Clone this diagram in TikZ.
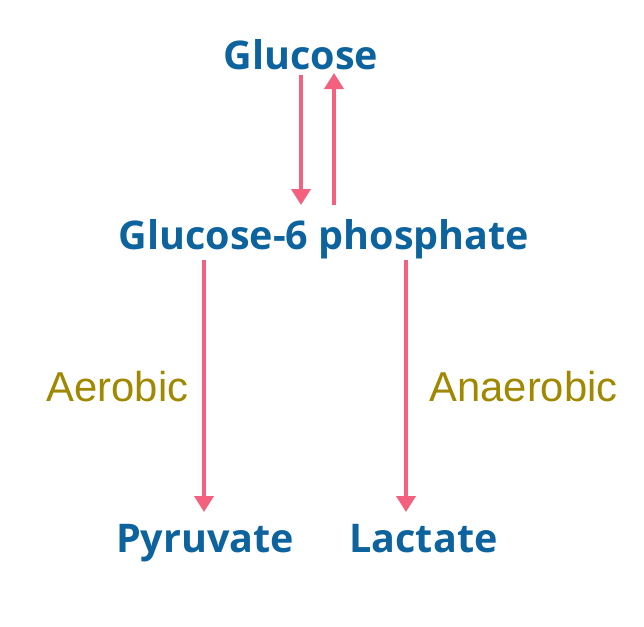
\documentclass[tikz,border=0pt]{standalone}
\usepackage{fontspec}
\setmainfont{Liberation Sans}
\newfontfamily\boldfam{Open Sans}
\usetikzlibrary{arrows.meta}
\definecolor{molblue}{HTML}{0D639D}
\definecolor{arrpink}{HTML}{F4617F}
\definecolor{olivetxt}{HTML}{A08800}
\tikzset{
  mol/.style={inner sep=0pt, anchor=base, text=molblue, font=\boldfam\bfseries\fontsize{39.5}{42}\selectfont},
  cond/.style={inner sep=0pt, anchor=base, text=olivetxt, font=\fontsize{41.8}{44}\selectfont},
  arr/.style={draw=arrpink, line width=3.8pt, -{Triangle[width=19pt,length=16pt]}}
}
\begin{document}
\begin{tikzpicture}[x=1pt,y=-1pt]
\useasboundingbox[fill=white] (0,0) rectangle (644,626);
\node[mol] (gl) at (301,69) {Glucose};
\node[mol] (g6) at (324,249) {Glucose-6 phosphate};
\node[mol] (py) at (205,552) {Pyruvate};
\node[mol] (la) at (423.5,552) {Lactate};
\node[cond] (ae) at (117.5,401) {Aerobic};
\node[cond] (an) at (523.5,401) {Anaerobic};
\draw[arr] ([yshift=-6pt]gl.base) -- ([xshift=-23pt,yshift=44pt]g6.base);
\draw[arr] ([xshift=10pt,yshift=44pt]g6.base) -- ([xshift=33pt,yshift=-4pt]gl.base);
\draw[arr] ([xshift=-120pt,yshift=-11pt]g6.base) -- ([xshift=-1pt,yshift=40pt]py.base);
\draw[arr] ([xshift=82pt,yshift=-11pt]g6.base) -- ([xshift=-17.5pt,yshift=40pt]la.base);
\end{tikzpicture}
\end{document}
